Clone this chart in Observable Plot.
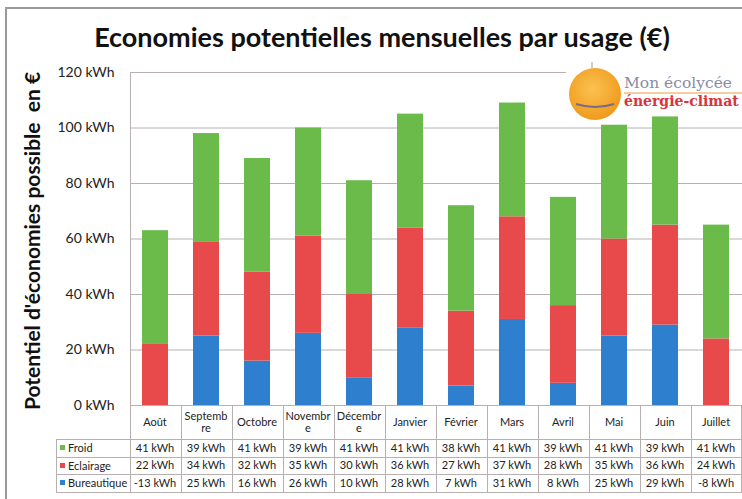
<!DOCTYPE html>
<html><head><meta charset="utf-8">
<script src="https://cdn.jsdelivr.net/npm/d3@7"></script>
<script src="https://cdn.jsdelivr.net/npm/@observablehq/plot@0.6"></script>
<style>
body{margin:0;background:#fff;font-family:Lato,"Open Sans",sans-serif}
#wrap{position:relative;width:742px;height:499px;overflow:hidden;background:#fff}
#frame{position:absolute;left:5px;top:7px;width:800px;height:600px;border-left:2px solid #9a9a9a;border-top:2px solid #9a9a9a}
#title{position:absolute;left:0;width:742px;top:20px;text-align:center;font-weight:700;font-size:27px;color:#111;padding-left:22px;box-sizing:border-box;white-space:nowrap}
#ylab{position:absolute;left:31px;top:241px;transform:translate(-50%,-50%) rotate(-90deg);white-space:pre;font-weight:700;font-size:21px;color:#111}
#chart{position:absolute;left:0;top:0}
.cell{position:absolute;box-sizing:border-box;text-align:center;font-size:11px;color:#222;display:flex;align-items:center;justify-content:center;line-height:12px}
.vl{position:absolute;width:1px;background:#b8b0b0}
.hl{position:absolute;height:1px;background:#b8b0b0}
.rl{position:absolute;font-size:11px;color:#222;display:flex;align-items:center}
.sq{display:inline-block;width:5px;height:5px;margin-right:3px}
#logo{position:absolute;left:566px;top:62px;width:176px;height:52px;background:#fff}
</style></head>
<body><div id="wrap">
<div id="frame"></div>
<div id="chart"></div>
<div id="title">Economies potentielles mensuelles par usage (€)</div>
<div id="ylab">Potentiel d'économies possible  en €</div>
<div id="logo">
<svg width="176" height="60" style="position:absolute;left:0;top:0;overflow:visible">
<defs><radialGradient id="g" cx="45%" cy="40%" r="60%"><stop offset="0" stop-color="#fbc252"/><stop offset="1" stop-color="#f09a1c"/></radialGradient></defs>
<circle cx="29" cy="32" r="26" fill="url(#g)"/>
<path d="M10 42 Q29 48 48 42" stroke="#7a6a8a" stroke-width="2" fill="none"/>
<line x1="26" y1="6" x2="26" y2="0" stroke="#bbb" stroke-width="1.5"/>
<text x="58" y="26" font-family="DejaVu Serif" font-size="15.5" fill="#8a8ca2">Mon écolycée</text>
<line x1="58" y1="31" x2="176" y2="31" stroke="#e8a040" stroke-width="1"/>
<text x="58" y="44" font-family="DejaVu Serif" font-size="14" font-weight="bold" fill="#d8343a">énergie-climat</text>
</svg>
</div>
</div>
<script>
const months = ["Août","Septembre","Octobre","Novembre","Décembre","Janvier","Février","Mars","Avril","Mai","Juin","Juillet"];
const monthHeaders = [["Août"],["Septemb","re"],["Octobre"],["Novembr","e"],["Décembr","e"],["Janvier"],["Février"],["Mars"],["Avril"],["Mai"],["Juin"],["Juillet"]];
const series = ["Froid","Eclairage","Bureautique"];
const colors = ["#6bbb4b","#e84a4c","#2f7fcf"];
const froid = [41,39,41,39,41,41,38,41,39,41,39,41];
const eclairage = [22,34,32,35,30,36,27,37,28,35,36,24];
const bureautique = [-13,25,16,26,10,28,7,31,8,25,29,-8];
const yTicks = [0,20,40,60,80,100,120];
const unit = " kWh";

const values = {Froid: froid, Eclairage: eclairage, Bureautique: bureautique};
// stacking order bottom -> top
const stackOrder = ["Bureautique","Eclairage","Froid"];
const rows = [];
for (const s of stackOrder) months.forEach((m,i)=>rows.push({month:m, series:s, value:values[s][i]}));

const chart = Plot.plot({
  width: 742, height: 499,
  marginTop: 72, marginBottom: 94, marginLeft: 130, marginRight: 0,
  style: {fontFamily: "Lato, sans-serif", background: "transparent", overflow: "visible"},
  x: {domain: months, paddingInner: 0.49, paddingOuter: 0.245, axis: null},
  y: {domain: [0,120], ticks: yTicks, tickFormat: d => d + unit, label: null},
  color: {domain: series, range: colors},
  marks: [
    Plot.gridY(yTicks, {stroke: "#b8b0b0", strokeOpacity: 1}),
    Plot.barY(rows, {x: "month", y: "value", fill: "series", order: null, clip: true}),
    Plot.axisY(yTicks, {tickSize: 0, tickPadding: 16, fontSize: 14, fill: "#222", tickFormat: d => d + unit, label: null})
  ]
});
document.getElementById("chart").appendChild(chart);

// Table aligned to the x scale
const xs = chart.scale("x");
const ys = chart.scale("y");
const wrap = document.getElementById("wrap");
const step = xs.step, gap = (xs.step - xs.bandwidth)/2;
const top0 = ys.apply(0);
const topMax = ys.apply(120);
const headerBottom = top0 + 34;
const rowH = 17.5;
const labelLeft = 56;
const plotLeft = xs.apply(months[0]) - gap;
const plotRight = xs.apply(months[months.length-1]) - gap + step;
function add(cls, style, html){const d=document.createElement("div");d.className=cls;Object.assign(d.style,style);if(html!=null)d.innerHTML=html;wrap.appendChild(d);return d;}
// left frame line of the plot area
add("vl",{left:plotLeft+"px",top:topMax+"px",height:(top0-topMax)+"px"});
months.forEach((m,i)=>{
  const l = xs.apply(m) - gap;
  add("vl",{left:(l)+"px",top:top0+"px",height:(headerBottom+3*rowH-top0)+"px"});
  add("cell",{left:l+"px",top:top0+"px",width:step+"px",height:(headerBottom-top0)+"px",flexDirection:"column"},
      monthHeaders[i].map(t=>"<div>"+t+"</div>").join(""));
  series.forEach((s,j)=>{
    add("cell",{left:l+"px",top:(headerBottom+j*rowH)+"px",width:step+"px",height:rowH+"px"}, values[s][i]+unit);
  });
});
add("vl",{left:plotRight-1+"px",top:top0+"px",height:(headerBottom+3*rowH-top0)+"px"});
add("vl",{left:labelLeft+"px",top:headerBottom+"px",height:(3*rowH)+"px"});
for (let j=0;j<=3;j++) add("hl",{left:labelLeft+"px",top:(headerBottom+j*rowH)+"px",width:(plotRight-labelLeft)+"px"});
series.forEach((s,j)=>{
  add("rl",{left:(labelLeft+4)+"px",top:(headerBottom+j*rowH)+"px",height:rowH+"px"},
    '<span class="sq" style="background:'+colors[j]+'"></span>'+s);
});
</script>
</body></html>
